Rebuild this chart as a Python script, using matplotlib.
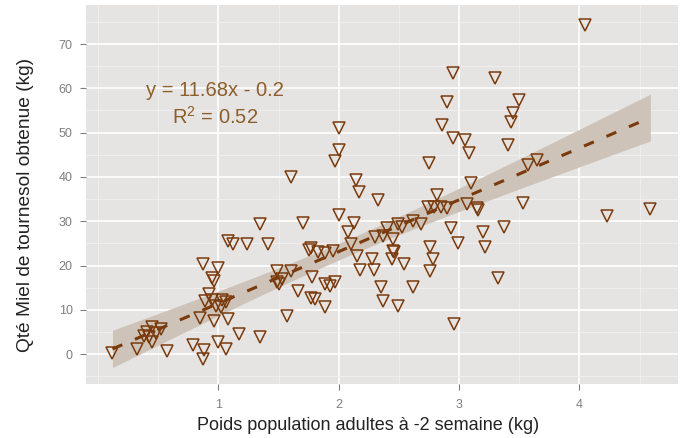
import numpy as np
import matplotlib
matplotlib.use("Agg")
import matplotlib.pyplot as plt

plt.rcParams['font.family'] = ['Liberation Sans', 'DejaVu Sans']

# poids population adultes a -2 semaines (kg)
poids = [0.12, 0.32, 0.38, 0.41, 0.45, 0.48, 0.52, 0.45, 0.57, 0.42,
         0.79, 0.88, 0.87, 1.00, 1.06, 1.17, 1.35,
         0.85, 0.96, 1.08, 1.02, 0.89, 0.95, 1.03, 1.06, 0.92, 0.98,
         0.96, 0.95, 0.87, 1.00, 1.08, 1.12, 1.24, 1.41, 1.35,
         1.57, 1.49, 1.60, 1.49, 1.50, 1.53, 1.66, 1.70, 1.75, 1.77,
         1.78, 1.77, 1.80, 1.89, 1.83, 1.89, 1.89, 1.93, 1.97, 1.95,
         1.60, 2.00, 2.00, 2.00, 1.97,
         2.08, 2.13, 2.15, 2.18, 2.29, 2.28, 2.30, 2.37, 2.40, 2.45,
         2.45, 2.44, 2.35, 2.37, 2.49, 2.54, 2.46, 2.62, 2.10, 2.14,
         2.17, 2.33, 2.53, 2.62, 2.68, 2.49,
         2.74, 2.79, 2.85, 2.90, 2.82, 2.75, 2.86, 2.90, 2.95, 2.95,
         3.05, 3.08, 3.10, 3.07, 3.15, 3.16, 2.93, 2.99, 2.76, 2.78,
         2.76, 2.96,
         3.20, 3.22, 3.37, 3.32, 3.30, 3.50, 3.45, 3.43, 3.41, 3.53,
         3.57, 3.65, 4.05, 4.23, 4.59]

# qte miel de tournesol obtenue (kg)
miel = [0.4, 1.1, 4.2, 5.0, 6.1, 4.8, 5.6, 2.7, 0.7, 3.8,
        2.0, 1.0, -1.0, 2.8, 1.2, 4.5, 3.8,
        8.3, 7.6, 7.9, 10.6, 12.0, 12.2, 12.3, 11.8, 13.5, 11.0,
        16.5, 17.2, 20.3, 19.5, 25.5, 24.8, 24.8, 24.8, 29.3,
        8.6, 18.7, 18.7, 16.4, 15.8, 17.0, 14.2, 29.7, 23.6, 24.0,
        17.5, 12.8, 12.4, 10.6, 23.0, 22.8, 15.8, 15.3, 16.2, 23.2,
        39.9, 31.5, 51.1, 46.2, 43.5,
        27.5, 29.7, 22.2, 19.1, 19.1, 21.4, 26.5, 26.6, 28.6, 26.0,
        23.2, 21.4, 15.1, 12.0, 11.0, 20.3, 23.0, 15.1, 24.8, 39.4,
        36.7, 34.9, 28.8, 30.0, 29.3, 29.3,
        33.3, 33.3, 33.3, 33.1, 36.0, 43.2, 51.8, 57.0, 63.5, 48.9,
        48.4, 45.5, 38.7, 33.8, 33.1, 32.6, 28.4, 25.2, 24.3, 21.4,
        18.7, 6.8,
        27.5, 24.1, 28.8, 17.3, 62.4, 57.4, 54.5, 52.3, 47.3, 34.2,
        42.8, 43.9, 74.3, 31.1, 32.7]

pente = 11.68
ordonnee = -0.2
r2_txt = "0.52"

x = np.array(poids)
y = np.array(miel)
n = len(x)

# fitted line and 95% confidence band
xs = np.sort(x)
fit = pente * xs + ordonnee
resid = y - (pente * x + ordonnee)
s = np.sqrt(np.sum(resid ** 2) / (n - 2))
sxx = np.sum((x - x.mean()) ** 2)
se = s * np.sqrt(1.0 / n + (xs - x.mean()) ** 2 / sxx)
lo = fit - 1.98 * se
hi = fit + 1.98 * se

brun = '#7a3a0c'
fig = plt.figure(figsize=(6.88, 4.38), dpi=100)
ax = fig.add_axes([0.125, 0.1233, 0.8605, 0.8653])
ax.set_facecolor('#e6e4e2')

ax.set_xlim(-0.1, 4.82)
ax.set_ylim(-6.7, 78.8)
ax.set_xticks([1, 2, 3, 4])
ax.set_yticks(np.arange(0, 71, 10))
ax.set_xticks(np.arange(0, 4.81, 0.5), minor=True)
ax.set_yticks(np.arange(-5, 78, 5), minor=True)
ax.grid(which='minor', color='#f2f1f0', linewidth=0.6)
ax.grid(which='major', color='white', linewidth=1.2)
ax.set_axisbelow(True)
for sp in ax.spines.values():
    sp.set_visible(False)
ax.tick_params(which='major', length=4.5, width=0.8, color='#7f7f7f',
               labelcolor='#7f7f7f', labelsize=9)
ax.tick_params(axis='x', pad=6)
ax.tick_params(axis='y', pad=5)
ax.tick_params(which='minor', length=0)

ax.fill_between(xs, lo, hi, color='#cdc3b8', linewidth=0, zorder=2)
ax.plot(xs, fit, color=brun, linewidth=2.2, dashes=(3.5, 4.5), zorder=3)
ax.plot(x, y, linestyle='none', marker='v', markersize=8.5,
        markerfacecolor='none', markeredgecolor=brun, markeredgewidth=1.1,
        zorder=4)

ax.text(0.97, 59.6, "y = 11.68x - 0.2", ha='center', va='center',
        fontsize=14.5, color='#8b5e2b')
ax.text(0.97, 53.5, r"$\mathregular{R^2}$ = " + r2_txt, ha='center', va='center',
        fontsize=14.5, color='#8b5e2b')

ax.set_xlabel("Poids population adultes à -2 semaine (kg)", fontsize=13,
              color='#222222')
ax.set_ylabel("Qté Miel de tournesol obtenue (kg)", fontsize=13.8,
              color='#222222')
ax.xaxis.set_label_coords(0.477, -0.087)
ax.yaxis.set_label_coords(-0.088, 0.472)

fig.savefig("out.png", dpi=100)
